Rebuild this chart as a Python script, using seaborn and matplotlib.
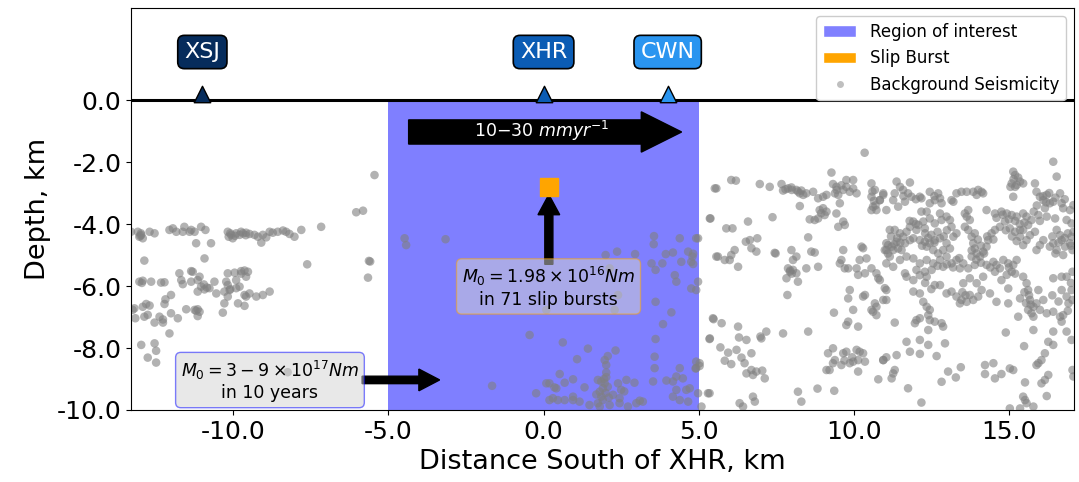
import numpy as np
import pandas as pd
import matplotlib
matplotlib.use("Agg")
import matplotlib.pyplot as plt
import seaborn as sns
from matplotlib.patches import Patch
from matplotlib.lines import Line2D
from matplotlib.ticker import FormatStrFormatter

# Stations along the profile (km south of XHR)
station_names = ["XSJ", "XHR", "CWN"]
station_pos = [-11.0, 0.0, 4.0]
station_colors = ["#062c5c", "#0b5cb4", "#2a95f0"]

# Region of interest and slip burst location
roi_bounds = [-5.0, 5.0]
burst_x, burst_depth = 0.17, -2.8

# Background seismicity (distance km, depth km)
west_events = [
    (-13.3, -4.25), (-13.08, -4.25), (-13.03, -4.41), (-12.97, -4.35), (-12.92, -4.46),
    (-12.98, -4.3), (-13.0, -4.38), (-12.7, -4.25), (-12.54, -4.3), (-12.06, -4.19),
    (-11.95, -4.14), (-11.84, -4.25), (-11.63, -4.25), (-11.58, -4.09), (-11.41, -4.25),
    (-11.36, -4.19), (-11.25, -4.25), (-11.04, -4.09), (-10.9, -4.19), (-10.18, -4.25),
    (-10.15, -4.41), (-10.07, -4.35), (-10.02, -4.46), (-10.1, -4.3), (-9.95, -4.38),
    (-9.91, -4.3), (-9.8, -4.35), (-9.75, -4.25), (-9.69, -4.3), (-9.6, -4.36),
    (-9.59, -4.28), (-9.48, -4.32), (-9.32, -4.35), (-9.21, -4.41), (-9.1, -4.6),
    (-9.05, -4.35), (-8.94, -4.43), (-8.83, -4.25), (-8.73, -4.28), (-8.57, -4.25),
    (-8.4, -4.21), (-8.3, -4.25), (-8.19, -4.32), (-8.03, -4.41), (-7.81, -4.19),
    (-7.17, -4.09), (-11.2, -4.62), (-10.72, -4.62), (-10.93, -5.11), (-12.87, -5.18),
    (-7.62, -5.3), (-6.04, -3.62), (-5.82, -3.57), (-5.45, -2.42), (-5.59, -5.21),
    (-5.63, -5.19), (-5.66, -5.73), (-8.25, -8.78),
    (-11.74, -5.59), (-11.36, -5.52), (-11.31, -5.54), (-11.09, -5.7), (-10.18, -5.59),
    (-9.96, -5.57), (-9.75, -5.52), (-9.64, -5.5), (-9.53, -5.54), (-9.59, -5.7),
    (-13.03, -5.86), (-12.92, -5.83), (-12.65, -5.86), (-12.33, -5.89), (-12.22, -5.88),
    (-11.68, -5.81), (-11.63, -5.94), (-11.36, -5.86), (-11.15, -5.81), (-10.61, -5.86),
    (-10.23, -5.86), (-9.91, -5.81), (-11.04, -6.02), (-10.93, -6.11), (-10.77, -6.07),
    (-10.55, -6.24), (-10.18, -5.97), (-10.12, -6.13), (-9.91, -6.07), (-9.8, -6.02),
    (-9.64, -6.29), (-9.48, -6.24), (-9.26, -6.34), (-9.05, -6.29), (-8.83, -6.18),
    (-11.15, -6.18), (-10.29, -6.18), (-13.19, -6.72), (-12.92, -6.67), (-12.81, -6.58),
    (-12.7, -6.63), (-12.22, -6.58), (-12.19, -6.43), (-12.01, -6.29), (-11.25, -6.77),
    (-11.15, -6.75), (-11.09, -6.83), (-10.29, -6.56), (-10.18, -6.34), (-9.85, -6.56),
    (-9.64, -6.64), (-9.59, -6.34), (-11.52, -6.75), (-13.16, -7.04), (-12.87, -6.99),
    (-12.76, -6.93), (-12.54, -7.18), (-12.38, -6.99), (-12.27, -7.08), (-12.01, -6.88),
    (-11.79, -7.04), (-11.15, -6.97), (-10.34, -6.86), (-12.27, -7.18), (-13.25, -6.77),
    (-12.06, -7.53), (-12.97, -7.9), (-12.54, -7.85), (-12.49, -8.09), (-12.76, -8.31),
    (-12.49, -8.47), (-10.95, -5.95), (-10.85, -6.05), (-10.1, -6.1), (-9.75, -5.6),
    (-12.95, -5.9), (-11.2, -6.8),
]

roi_events = [
    (-4.48, -4.46), (-4.43, -4.68), (-3.16, -4.49), (-0.45, -7.58), (-1.66, -9.22),
    (0.09, -9.14), (-0.24, -9.46), (2.0, -5.0), (2.37, -4.89), (2.95, -4.97),
    (3.56, -4.39), (3.55, -4.65), (3.94, -4.97), (4.17, -4.92), (4.39, -4.46),
    (4.66, -4.89), (4.8, -5.05), (4.92, -4.46), (3.48, -5.27), (3.61, -5.48),
    (3.83, -5.27), (4.23, -5.65), (4.28, -5.86), (4.44, -5.22), (4.76, -5.22),
    (4.98, -5.86), (4.76, -6.08), (4.92, -6.13), (3.61, -6.51), (4.12, -6.85),
    (3.85, -7.23), (3.61, -7.71), (2.29, -6.77), (0.09, -6.77), (2.13, -5.43),
    (2.4, -6.29), (0.62, -7.82), (1.43, -8.02), (2.32, -8.08), (2.07, -8.26),
    (1.97, -8.39), (1.08, -8.36), (3.58, -8.28), (3.58, -8.65), (2.02, -8.55),
    (2.02, -8.79), (0.52, -8.84), (0.95, -9.01), (0.68, -9.12), (0.41, -9.3),
    (1.32, -9.27), (1.75, -9.03), (1.86, -9.08), (1.97, -9.14), (1.91, -9.3),
    (1.81, -9.41), (1.86, -9.57), (2.02, -8.94), (2.07, -9.25), (1.91, -9.68),
    (1.75, -9.78), (1.81, -9.89), (2.0, -9.45), (1.95, -9.0), (2.1, -9.6),
    (1.7, -9.5), (2.4, -9.14), (2.67, -9.03), (2.93, -9.12), (2.5, -9.35),
    (2.6, -9.4), (2.24, -9.51), (2.45, -9.62), (3.1, -9.7), (3.2, -9.73),
    (3.53, -9.08), (3.96, -9.05), (4.17, -9.08), (4.28, -8.92), (4.39, -8.65),
    (4.49, -8.98), (4.6, -9.35), (4.71, -9.3), (4.28, -9.35), (4.17, -9.57),
    (4.39, -9.68), (4.66, -9.73), (4.92, -8.65), (0.19, -9.14), (0.35, -9.27),
    (0.19, -9.68), (0.3, -9.62), (0.46, -9.68), (0.68, -9.68), (0.95, -9.57),
    (0.95, -9.68), (1.16, -9.73), (1.48, -9.84), (2.13, -9.84), (2.45, -9.78),
    (2.72, -9.89), (2.99, -9.78), (4.82, -4.96), (4.82, -5.29),
]

east_events = [
    (5.03, -8.49), (5.52, -2.85), (5.36, -3.82), (5.57, -5.05), (5.46, -7.04),
    (5.36, -7.69), (5.3, -9.46), (10.35, -1.7),
    (6.05, -2.58), (6.2, -2.6), (5.57, -2.85), (6.97, -2.71), (7.29, -2.8),
    (7.67, -2.71), (7.72, -2.92), (7.88, -2.85), (7.99, -2.82), (8.15, -2.9),
    (8.26, -3.01), (8.37, -3.06), (8.47, -3.01), (8.31, -2.92), (8.26, -3.42),
    (8.69, -2.96), (8.85, -3.17), (9.01, -3.12), (9.12, -3.06), (8.9, -3.55),
    (9.01, -3.49), (9.12, -3.6), (9.06, -3.71), (8.85, -3.82), (8.74, -3.87),
    (8.58, -3.85), (9.28, -2.34), (9.33, -2.71), (9.44, -2.8), (9.39, -3.01),
    (9.5, -3.06), (9.66, -2.9), (9.76, -2.8), (9.98, -2.58), (9.98, -2.85),
    (9.87, -2.96), (10.09, -3.01), (9.76, -2.58), (9.55, -3.33), (9.44, -3.66),
    (9.66, -3.92), (9.71, -4.03), (9.5, -4.09), (10.57, -2.69), (10.68, -2.9),
    (10.57, -3.12), (10.62, -3.44), (10.73, -3.55), (10.84, -3.23), (10.95, -3.01),
    (10.57, -3.55), (11.11, -4.68), (11.05, -4.84), (5.38, -3.82), (6.59, -3.92),
    (7.38, -3.78), (5.89, -4.14), (6.09, -4.14), (4.98, -4.46), (6.52, -4.57),
    (6.65, -4.52), (6.89, -4.46), (6.7, -4.78), (6.86, -4.89), (8.53, -4.43),
    (6.16, -4.84), (6.05, -5.0), (5.84, -5.16), (5.62, -5.05), (6.0, -5.16),
    (6.27, -5.38), (7.48, -4.95), (7.45, -4.93), (7.99, -4.84), (8.15, -5.05),
    (8.04, -5.16), (7.94, -5.54), (8.04, -5.48), (8.15, -5.59), (7.88, -5.43),
    (7.83, -5.75), (8.2, -5.86), (8.47, -5.43), (8.63, -4.89), (8.74, -4.92),
    (8.85, -5.38), (7.86, -6.29), (9.66, -4.84), (9.6, -5.16), (9.55, -5.27),
    (9.71, -5.43), (9.82, -5.43), (10.09, -5.43), (10.19, -5.16), (10.3, -4.78),
    (10.25, -4.73), (10.41, -5.11), (10.36, -5.59), (10.57, -5.43), (10.73, -5.59),
    (10.79, -5.75), (10.14, -5.64), (9.87, -6.13), (9.82, -6.4), (9.98, -6.77),
    (10.3, -6.34), (10.36, -6.29), (10.14, -7.31), (9.76, -7.26), (9.82, -7.15),
    (10.68, -6.56), (10.73, -6.67), (10.62, -6.83), (10.73, -6.94), (10.57, -6.77),
    (11.0, -6.07), (11.05, -6.45), (9.36, -6.86), (8.53, -7.47), (7.72, -7.53),
    (5.48, -7.07), (5.74, -7.2), (6.27, -7.31), (6.3, -7.66), (6.54, -7.74),
    (7.02, -7.69), (6.99, -7.63), (7.18, -7.47), (5.35, -7.71), (5.7, -7.98),
    (5.95, -8.15), (6.22, -8.06), (6.38, -8.31), (6.7, -8.17), (5.84, -8.41),
    (6.05, -8.52), (6.48, -8.49), (6.54, -8.82), (6.7, -8.71), (6.86, -8.76),
    (7.05, -8.73), (7.13, -8.98), (6.75, -8.87), (4.92, -8.44), (5.03, -8.58),
    (4.9, -8.66), (5.35, -9.46), (4.98, -9.46), (5.09, -9.89), (6.32, -9.78),
    (6.43, -9.89), (6.75, -9.57), (6.81, -9.73), (8.2, -9.41), (8.31, -9.73),
    (8.83, -9.31), (9.37, -9.38), (9.17, -8.17), (9.12, -8.71), (9.33, -8.01),
    (9.39, -8.39), (9.66, -8.17), (9.76, -8.12), (9.87, -8.49), (9.98, -8.44),
    (10.09, -8.06), (10.19, -8.12), (10.14, -8.39), (10.3, -8.17), (10.36, -8.44),
    (9.33, -8.49), (9.6, -8.55), (10.14, -8.76), (9.22, -8.71), (10.79, -9.01),
    (10.95, -8.39), (8.0, -2.9), (8.2, -2.95), (7.8, -2.88), (9.45, -2.9),
    (9.6, -2.75), (10.6, -2.95), (10.65, -3.25), (10.7, -3.4), (8.95, -3.65),
    (7.95, -5.5), (8.0, -5.6), (9.95, -8.3), (9.7, -8.4),
]

far_east_events = [
    (16.43, -1.99), (16.54, -2.47), (15.14, -2.31), (15.2, -2.42), (15.09, -2.69),
    (15.25, -2.74), (15.2, -2.8), (15.36, -2.63), (15.46, -2.69), (15.14, -3.12),
    (15.84, -2.69), (11.38, -2.63), (11.49, -2.8), (11.59, -2.9), (11.81, -2.66),
    (11.32, -3.01), (11.75, -3.01), (11.86, -3.12), (11.65, -3.28), (11.27, -3.23),
    (11.05, -3.55), (11.43, -3.44), (10.95, -3.06), (10.84, -3.23), (12.13, -3.12),
    (12.18, -3.17), (12.45, -2.96), (12.72, -3.01), (12.61, -3.23), (12.78, -3.17),
    (12.83, -3.33), (12.45, -3.33), (12.35, -3.6), (13.15, -3.23), (13.21, -3.28),
    (13.31, -3.01), (13.47, -2.96), (13.64, -2.96), (13.85, -2.96), (14.01, -2.9),
    (14.12, -2.96), (14.17, -3.01), (13.96, -3.06), (14.28, -3.55), (13.69, -3.55),
    (13.64, -3.76), (13.74, -3.87), (13.58, -3.66), (12.18, -3.6), (12.45, -3.82),
    (12.78, -3.66), (12.99, -3.76), (13.1, -3.87), (13.15, -4.09), (12.83, -3.87),
    (12.61, -3.98), (12.24, -3.92), (12.08, -4.03), (11.92, -3.92), (11.81, -4.09),
    (12.02, -4.19), (12.29, -4.14), (11.7, -4.25), (11.16, -4.19), (11.32, -4.19),
    (11.49, -4.3), (11.59, -4.41), (11.38, -4.57), (11.22, -4.73), (11.05, -4.62),
    (11.27, -4.84), (11.43, -4.79), (11.65, -4.62), (11.81, -4.52), (11.92, -4.46),
    (11.54, -4.84), (11.0, -4.84), (12.13, -4.52), (12.29, -4.57), (12.45, -4.62),
    (12.61, -4.52), (12.78, -4.46), (12.99, -4.62), (13.1, -4.79), (12.88, -4.84),
    (12.72, -4.95), (12.56, -4.84), (12.35, -4.73), (13.21, -4.41), (13.31, -4.3),
    (13.58, -4.09), (13.69, -4.19), (13.8, -4.41), (13.85, -4.62), (13.9, -4.79),
    (13.96, -4.95), (14.07, -5.05), (14.17, -4.89), (14.28, -4.73), (14.33, -4.52),
    (14.44, -4.3), (14.55, -4.19), (14.55, -3.66), (14.76, -3.6), (14.93, -3.66),
    (15.09, -3.71), (15.25, -3.76), (14.87, -3.92), (14.71, -4.09), (15.03, -4.14),
    (15.2, -4.25), (15.36, -4.19), (15.46, -3.66), (15.57, -3.76), (15.73, -3.87),
    (15.62, -4.03), (15.46, -4.19), (15.36, -4.41), (15.57, -4.52), (15.68, -4.36),
    (15.84, -4.25), (15.46, -4.68), (15.89, -2.96), (16.0, -3.12), (16.11, -3.23),
    (16.22, -3.06), (16.32, -3.33), (16.43, -3.28), (16.65, -3.01), (16.7, -3.33),
    (16.75, -3.49), (16.97, -3.55), (17.08, -3.39), (16.16, -3.49), (15.95, -3.71),
    (16.22, -3.76), (16.49, -3.82), (16.86, -3.87), (17.02, -3.98), (16.54, -4.19),
    (16.65, -4.36), (16.7, -4.52), (16.43, -4.62), (16.32, -4.73), (16.54, -4.84),
    (16.81, -4.73), (16.97, -4.62), (17.05, -4.84), (17.02, -4.41), (17.08, -4.25),
    (16.11, -4.52), (16.0, -4.68), (15.89, -4.84), (14.28, -5.32), (14.5, -5.22),
    (14.6, -5.32), (14.55, -5.54), (14.71, -5.43), (14.82, -5.16), (14.98, -5.27),
    (15.14, -5.32), (15.09, -5.54), (14.93, -5.64), (15.25, -5.16), (13.31, -5.16),
    (13.53, -5.27), (13.8, -5.05), (13.9, -5.32), (13.69, -5.43), (13.42, -5.43),
    (13.15, -5.27), (12.99, -5.05), (12.78, -5.16), (12.56, -5.27), (12.35, -5.16),
    (12.13, -5.27), (11.92, -5.11), (11.7, -5.05), (11.49, -5.16), (11.27, -5.38),
    (11.16, -5.05), (11.05, -5.27), (11.65, -5.59), (12.02, -5.48), (12.29, -5.54),
    (12.51, -5.48), (12.88, -5.38), (11.7, -5.7), (11.92, -5.81), (12.13, -5.65),
    (12.35, -5.7), (12.61, -5.97), (12.78, -5.97), (11.92, -6.18), (12.13, -6.24),
    (12.99, -6.24), (13.15, -6.18), (13.31, -6.34), (13.47, -6.45), (13.42, -6.56),
    (13.64, -6.51), (13.74, -6.29), (13.85, -6.45), (14.01, -6.34), (14.12, -6.13),
    (13.96, -5.91), (14.17, -5.7), (13.74, -5.75), (13.53, -5.91), (14.39, -6.24),
    (14.6, -6.51), (14.98, -6.08), (14.98, -6.56), (14.76, -5.81), (15.46, -5.7),
    (15.57, -5.91), (15.62, -6.13), (15.68, -6.45), (15.79, -6.67), (15.73, -6.88),
    (15.62, -6.77), (15.79, -6.99), (15.36, -6.4), (15.3, -6.99), (15.95, -6.13),
    (16.11, -6.45), (15.89, -6.56), (16.0, -6.77), (16.22, -6.88), (16.43, -6.83),
    (16.65, -6.99), (16.7, -6.13), (16.86, -6.34), (16.92, -6.56), (16.43, -5.75),
    (16.7, -5.7), (17.02, -6.13), (17.05, -6.45), (12.02, -7.1), (12.13, -7.04),
    (11.97, -7.2), (12.45, -7.1), (12.61, -7.15), (12.83, -7.2), (12.88, -7.31),
    (12.24, -6.51), (12.35, -6.67), (12.45, -6.77), (12.4, -6.94), (11.32, -7.18),
    (10.95, -6.45), (11.05, -6.13), (10.84, -5.81), (12.4, -7.42), (11.7, -7.8),
    (12.13, -7.74), (12.4, -7.9), (12.94, -7.85), (11.81, -8.12), (12.13, -8.19),
    (12.67, -8.26), (11.38, -8.23), (11.05, -8.3), (10.95, -8.39), (11.32, -8.71),
    (11.27, -8.82), (11.22, -8.98), (11.75, -9.3), (12.18, -9.76), (12.83, -9.09),
    (13.04, -8.76), (13.29, -8.95), (13.45, -8.62), (14.23, -8.55), (14.5, -8.49),
    (14.23, -8.84), (14.55, -8.98), (14.76, -8.84), (15.03, -8.66), (15.14, -8.71),
    (14.9, -7.5), (15.49, -7.94), (15.79, -7.42), (16.27, -7.8), (16.43, -7.9),
    (16.16, -8.17), (16.05, -8.39), (15.95, -8.49), (15.89, -8.55), (16.27, -8.87),
    (16.16, -9.03), (16.05, -9.14), (15.52, -9.11), (16.22, -9.55), (15.46, -9.57),
    (15.52, -9.68), (15.57, -9.78), (15.79, -9.89), (15.03, -9.95), (15.36, -9.95),
    (16.86, -7.47), (17.02, -7.74), (17.05, -8.71), (17.08, -8.92), (16.43, -7.47),
    (16.7, -7.15), (16.75, -6.94), (16.86, -5.7), (17.05, -5.54),
    # denser masses
    (12.3, -4.3), (12.5, -4.35), (12.7, -4.25), (12.4, -4.45), (12.6, -4.6),
    (12.2, -4.7), (12.9, -4.4), (13.0, -4.2), (13.9, -4.3), (14.0, -4.5),
    (14.1, -4.7), (13.8, -4.85), (14.2, -4.95), (13.95, -5.15), (14.1, -5.25),
    (15.2, -3.9), (15.35, -4.0), (15.5, -3.95), (15.1, -4.4), (15.25, -4.55),
    (15.0, -3.85), (16.4, -4.4), (16.6, -4.6), (16.8, -4.45), (16.9, -4.3),
    (17.0, -4.7), (16.5, -4.95), (16.75, -5.0), (11.2, -4.4), (11.4, -4.45),
    (11.3, -4.65), (11.5, -4.6), (11.1, -4.95), (16.1, -3.1), (16.3, -3.0),
    (16.5, -3.15), (16.2, -3.3), (16.8, -3.2), (15.15, -2.55), (15.3, -2.5),
    (15.05, -2.8), (13.0, -5.3), (13.2, -5.4), (12.7, -5.35), (13.4, -5.1),
    (15.5, -6.2), (15.65, -6.3), (15.7, -6.6), (15.55, -6.55), (12.0, -3.2),
    (12.6, -3.1), (11.6, -3.1), (11.8, -3.9), (12.0, -4.0), (14.6, -3.8),
    (14.8, -3.7), (14.9, -4.2), (14.3, -4.4), (14.5, -4.5), (15.8, -3.6),
    (15.9, -3.4), (16.0, -3.9), (16.4, -6.3), (16.6, -6.5), (16.9, -6.8),
    (17.0, -5.9), (12.3, -5.9), (12.5, -6.1), (13.5, -6.2), (13.6, -6.3),
    (15.0, -5.4), (15.2, -5.6), (14.4, -5.4),
]

quakes = pd.DataFrame(
    west_events + roi_events + east_events + far_east_events,
    columns=["distance", "depth"],
)

sns.set_style("ticks")
plt.rcParams["font.family"] = ["DejaVu Sans"]
plt.rcParams["text.color"] = "black"
plt.rcParams["axes.labelcolor"] = "black"
plt.rcParams["xtick.color"] = "black"
plt.rcParams["ytick.color"] = "black"

fig = plt.figure(figsize=(10.79, 4.82), dpi=100)
ax = fig.add_axes([0.1214, 0.1494, 0.8740, 0.8340])

# Region of interest (only below the surface)
ax.fill_between(roi_bounds, -10, 0, color="blue", alpha=0.5, lw=0, zorder=0)

sns.scatterplot(
    data=quakes, x="distance", y="depth", color="gray", alpha=0.6,
    s=38, edgecolor="none", ax=ax, legend=False, zorder=2,
)

# Surface line
ax.axhline(0, color="black", lw=2.2, zorder=4)

# Stations
for name, pos, col in zip(station_names, station_pos, station_colors):
    ax.scatter(pos, 0.2, marker="^", s=140, color=col, edgecolors="black",
               linewidths=1, zorder=5, clip_on=False)
    ax.text(pos, 1.55, name, ha="center", va="center", color="white", fontsize=16,
            bbox=dict(boxstyle="round,pad=0.3", fc=col, ec="black", lw=1.2), zorder=6)

# Plate rate arrow
ax.arrow(-4.35, -1.03, 8.8, 0, width=0.78, head_width=1.3, head_length=1.3,
         length_includes_head=True, fc="black", ec="black", zorder=5)
ax.text(-0.05, -1.0, "10\u221230 $mmyr^{-1}$", ha="center", va="center",
        color="white", fontsize=12.5, zorder=6)

# Slip burst
ax.scatter(burst_x, burst_depth, marker="s", s=150, color="orange", zorder=6)
ax.arrow(burst_x, -5.3, 0, 2.25, width=0.26, head_width=0.7, head_length=0.65,
         length_includes_head=True, fc="black", ec="black", zorder=5)
ax.text(0.16, -6.03, "$M_0 = 1.98 \\times 10^{16} Nm$\nin 71 slip bursts",
        ha="center", va="center", fontsize=12.5, zorder=7,
        bbox=dict(boxstyle="round,pad=0.3", fc="lightgray", ec="orange", alpha=0.5))

# Long-term moment arrow
ax.arrow(-5.85, -9.03, 2.5, 0, width=0.24, head_width=0.7, head_length=0.67,
         length_includes_head=True, fc="black", ec="black", zorder=5)
ax.text(-8.82, -9.05, "$M_0 = 3 - 9 \\times 10^{17} Nm$\nin 10 years",
        ha="center", va="center", fontsize=12.5, zorder=7,
        bbox=dict(boxstyle="round,pad=0.3", fc="lightgray", ec="blue", alpha=0.5))

ax.set_xlim(-13.3, 17.1)
ax.set_ylim(-10, 2.97)
ax.set_xticks([-10, -5, 0, 5, 10, 15])
ax.set_yticks([0, -2, -4, -6, -8, -10])
ax.xaxis.set_major_formatter(FormatStrFormatter("%.1f"))
ax.yaxis.set_major_formatter(FormatStrFormatter("%.1f"))
ax.tick_params(labelsize=18, colors="black")
ax.set_xlabel("Distance South of XHR, km", fontsize=19.5)
ax.set_ylabel("Depth, km", fontsize=19.5)
for sp in ax.spines.values():
    sp.set_visible(True)
    sp.set_color("black")

handles = [
    Patch(facecolor="#8080ff", label="Region of interest"),
    Patch(facecolor="orange", label="Slip Burst"),
    Line2D([], [], marker="o", ls="", color="gray", alpha=0.5, markersize=5,
           markeredgecolor="none", label="Background Seismicity"),
]
ax.legend(handles=handles, loc="upper right", fontsize=12, framealpha=1)

fig.savefig("out.png", dpi=100)
